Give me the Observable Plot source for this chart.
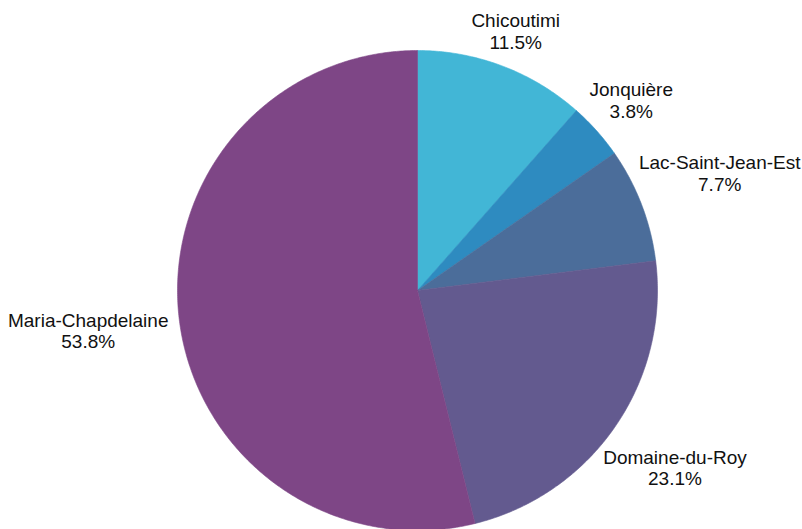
<!DOCTYPE html>
<html>
<head>
<meta charset="utf-8">
<script src="https://cdn.jsdelivr.net/npm/d3@7"></script>
<script src="https://cdn.jsdelivr.net/npm/@observablehq/plot@0.6"></script>
<style>
  html, body { margin: 0; padding: 0; background: #ffffff; }
  #chart svg { display: block; }
</style>
</head>
<body>
<div id="chart"></div>
<script>
// Share of the total by regional county municipality
const regions = ["Chicoutimi", "Jonquière", "Lac-Saint-Jean-Est", "Domaine-du-Roy", "Maria-Chapdelaine"];
const shares = [11.5, 3.8, 7.7, 23.1, 53.8];
const sliceColors = ["#42b6d6", "#2e8bc0", "#4b6d9a", "#635a8f", "#7e4686"];

// Layout
const W = 802, H = 529;
const cx = 417, cy = 290, R = 240;     // pie centre and radius in pixels
const FONT = "Liberation Sans, Arial, Helvetica, sans-serif";
const FONT_SIZE = 19, LINE_HEIGHT = 1.14, LABEL_GAP = 12, EDGE_PAD = 2;

// Angles start at 12 o'clock and run clockwise, in slice order
const arcs = d3.pie().sort(null).value(d => d.share)(
  regions.map((region, i) => ({ region, share: shares[i] }))
);

// Each slice as a closed polygon in radius units (centre at 0,0, y up)
const slicePoints = arcs.flatMap(a => {
  const steps = Math.max(2, Math.ceil((a.endAngle - a.startAngle) / (Math.PI / 360)));
  const pts = [{ region: a.data.region, x: 0, y: 0 }];
  for (let k = 0; k <= steps; k++) {
    const t = a.startAngle + (a.endAngle - a.startAngle) * k / steps;
    pts.push({ region: a.data.region, x: Math.sin(t), y: Math.cos(t) });
  }
  pts.push({ region: a.data.region, x: 0, y: 0 });
  return pts;
});

// Label blocks sit just outside the rim, along each slice's mid-angle,
// nudged inward when they would run past the frame edge
const ctx = document.createElement("canvas").getContext("2d");
ctx.font = `${FONT_SIZE}px ${FONT}`;
const xMin = -cx / R, xMax = (W - cx) / R;
const labels = arcs.map(a => {
  const name = a.data.region;
  const pct = `${a.data.share.toFixed(1)}%`;
  const halfW = Math.max(ctx.measureText(name).width, ctx.measureText(pct).width) / 2;
  const halfH = FONT_SIZE * LINE_HEIGHT;
  const mid = (a.startAngle + a.endAngle) / 2;
  const s = Math.sin(mid), c = Math.cos(mid);
  const ext = Math.hypot(halfW * s, halfH * c);
  const r = 1 + (LABEL_GAP + ext) / R;
  const hw = (halfW + EDGE_PAD) / R;
  const x = Math.min(Math.max(r * s, xMin + hw), xMax - hw);
  return { region: name, text: `${name}\n${pct}`, x, y: r * c };
});

const chart = Plot.plot({
  width: W,
  height: H,
  margin: 0,
  style: { fontFamily: FONT, background: "#ffffff" },
  x: { domain: [xMin, xMax], range: [0, W], axis: null },
  y: { domain: [-(H - cy) / R, cy / R], range: [H, 0], axis: null },
  color: { domain: regions, range: sliceColors },
  marks: [
    Plot.line(slicePoints, {
      x: "x", y: "y", z: "region",
      fill: "region", stroke: "region", strokeWidth: 0.6,
      curve: "linear"
    }),
    Plot.text(labels, {
      x: "x", y: "y", text: "text",
      fontSize: FONT_SIZE, lineHeight: LINE_HEIGHT,
      lineAnchor: "middle", textAnchor: "middle",
      fill: "#111111"
    })
  ]
});

document.getElementById("chart").append(chart);
</script>
</body>
</html>
